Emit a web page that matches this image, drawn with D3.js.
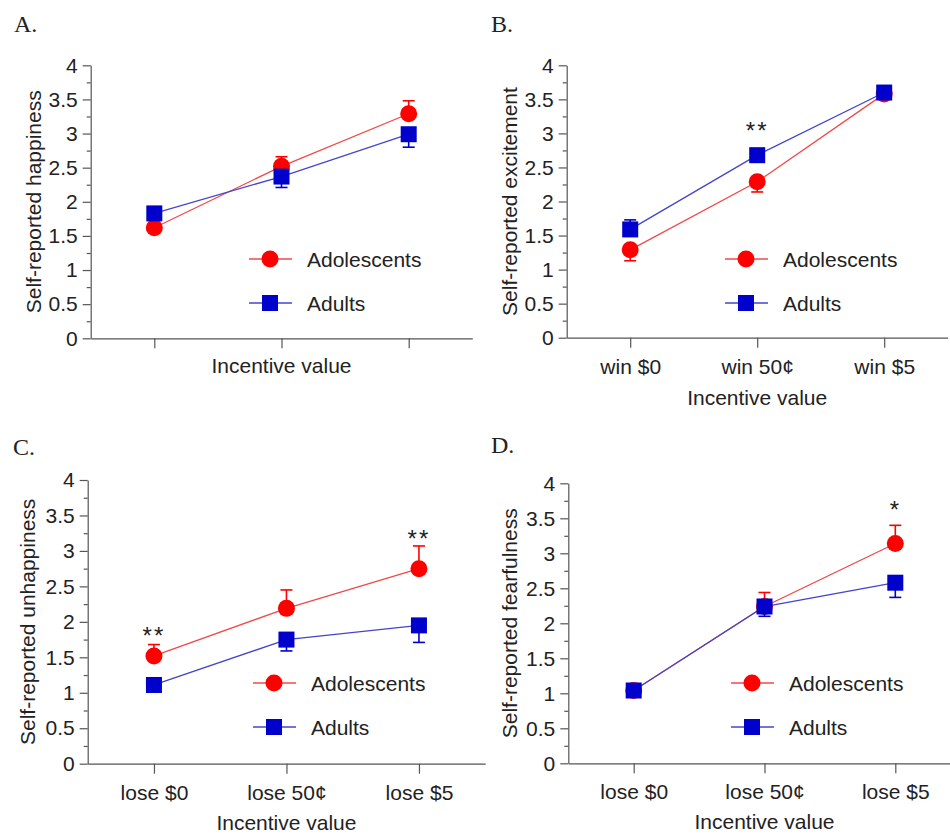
<!DOCTYPE html>
<html>
<head>
<meta charset="utf-8">
<script src="https://cdn.jsdelivr.net/npm/d3@7"></script>
<style>
  body { margin: 0; background: #fff; }
  text { font-family: "Liberation Sans", Arial, sans-serif; fill: #222; }
</style>
</head>
<body>
<div id="chart"></div>
<script>
// categories and labels
const groups = ["Adolescents", "Adults"]
const winLabels = ["win $0", "win 50¢", "win $5"]
const loseLabels = ["lose $0", "lose 50¢", "lose $5"]
const yTicks = [0, 0.5, 1, 1.5, 2, 2.5, 3, 3.5, 4]

// A. happiness (mean, end of the one-sided error bar or null when hidden)
const happyAdol = [1.62, 2.52, 3.29]
const happyAdolBar = [null, 2.66, 3.48]
const happyAdult = [1.83, 2.37, 2.99]
const happyAdultBar = [null, 2.21, 2.80]

// B. excitement
const exciteAdol = [1.29, 2.29, 3.58]
const exciteAdolBar = [1.13, 2.14, null]
const exciteAdult = [1.59, 2.68, 3.60]
const exciteAdultBar = [1.73, null, null]
const exciteStars = ["", "**", ""]
const exciteStarLevel = [null, 3.11, null]

// C. unhappiness
const unhappyAdol = [1.52, 2.19, 2.75]
const unhappyAdolBar = [1.68, 2.45, 3.07]
const unhappyAdult = [1.11, 1.75, 1.95]
const unhappyAdultBar = [null, 1.59, 1.71]
const unhappyStars = ["**", "", "**"]
const unhappyStarLevel = [1.87, null, 3.24]

// D. fearfulness
const fearAdol = [1.04, 2.24, 3.14]
const fearAdolBar = [null, 2.44, 3.40]
const fearAdult = [1.04, 2.24, 2.58]
const fearAdultBar = [null, 2.10, 2.37]
const fearStars = ["", "", "*"]
const fearStarLevel = [null, null, 3.69]

const w = 950
const h = 835
const red = "#ff0000"
const blue = "#0000cc"

const panels = [
  {letter: "A.", lx: 14, ly: 32, ax: 90.7, top: 65.3, bot: 338.3, step: 127.2,
   cats: winLabels, showCats: false, ytitle: "Self-reported happiness", ytx: 41,
   titleDy: 35, adol: happyAdol, adolBar: happyAdolBar, adult: happyAdult, adultBar: happyAdultBar,
   stars: null, starLevel: null, legX: 270, legY: 259},
  {letter: "B.", lx: 491, ly: 32, ax: 566.7, top: 65.3, bot: 337.7, step: 127,
   cats: winLabels, showCats: true, ytitle: "Self-reported excitement", ytx: 517,
   titleDy: 67, adol: exciteAdol, adolBar: exciteAdolBar, adult: exciteAdult, adultBar: exciteAdultBar,
   stars: exciteStars, starLevel: exciteStarLevel, legX: 746, legY: 259},
  {letter: "C.", lx: 13, ly: 455, ax: 87.7, top: 480, bot: 763.7, step: 132.5,
   cats: loseLabels, showCats: true, ytitle: "Self-reported unhappiness", ytx: 35,
   titleDy: 66, adol: unhappyAdol, adolBar: unhappyAdolBar, adult: unhappyAdult, adultBar: unhappyAdultBar,
   stars: unhappyStars, starLevel: unhappyStarLevel, legX: 274, legY: 683},
  {letter: "D.", lx: 491, ly: 453, ax: 568.3, top: 483.3, bot: 763.3, step: 130.8,
   cats: loseLabels, showCats: true, ytitle: "Self-reported fearfulness", ytx: 517,
   titleDy: 66, adol: fearAdol, adolBar: fearAdolBar, adult: fearAdult, adultBar: fearAdultBar,
   stars: fearStars, starLevel: fearStarLevel, legX: 752, legY: 683}
]

const svg = d3.select("#chart").append("svg")
  .attr("width", w)
  .attr("height", h)

function drawPanel(p) {
  const g = svg.append("g")

  const x = d3.scalePoint().domain(p.cats).range([p.ax, p.ax + 3 * p.step]).padding(0.5)
  const y = d3.scaleLinear().domain([0, 4]).range([p.bot, p.top])

  // panel letter
  g.append("text")
    .attr("x", p.lx).attr("y", p.ly)
    .style("font-family", "'Liberation Serif', 'Times New Roman', serif")
    .style("font-size", "24px")
    .text(p.letter)

  // y axis, minor ticks first
  const minor = d3.pairs(yTicks).map(d => (d[0] + d[1]) / 2)
  g.append("g")
    .attr("transform", `translate(${p.ax},0)`)
    .call(d3.axisLeft(y).tickValues(minor).tickSize(4).tickSizeOuter(0).tickFormat(""))
    .call(a => a.select(".domain").remove())
  const ya = g.append("g")
    .attr("transform", `translate(${p.ax},0)`)
    .call(d3.axisLeft(y).tickValues(yTicks).tickSize(8).tickSizeOuter(0).tickPadding(5).tickFormat(d3.format("~g")))
  ya.attr("font-family", null)
  ya.selectAll("text").style("font-size", "21px").attr("fill", "#222")

  // x axis
  const xa = g.append("g")
    .attr("transform", `translate(0,${p.bot})`)
    .call(d3.axisBottom(x).tickSize(10).tickSizeOuter(0))
  xa.attr("font-family", null)
  xa.selectAll("text")
    .attr("y", 36).attr("dy", 0)
    .style("font-size", "21px")
    .attr("fill", "#222")
    .text(d => p.showCats ? d : "")

  g.selectAll(".domain, .tick line").attr("stroke", "#555").attr("stroke-width", 1.2)

  // axis titles
  g.append("text")
    .attr("x", x(p.cats[1])).attr("y", p.bot + p.titleDy)
    .attr("text-anchor", "middle")
    .style("font-size", "21px")
    .text("Incentive value")
  g.append("text")
    .attr("transform", `translate(${p.ytx},${(p.top + p.bot) / 2}) rotate(-90)`)
    .attr("text-anchor", "middle")
    .style("font-size", "21px")
    .text(p.ytitle)

  const series = [
    {name: groups[0], vals: p.adol, bars: p.adolBar, color: red, line: "#f04848", shape: "circle"},
    {name: groups[1], vals: p.adult, bars: p.adultBar, color: blue, line: "#4444cc", shape: "square"}
  ]

  const line = d3.line().x((d, i) => x(p.cats[i])).y(d => y(d))

  series.forEach(s => {
    const sg = g.append("g")
    sg.append("path")
      .attr("d", line(s.vals))
      .attr("fill", "none")
      .attr("stroke", s.line)
      .attr("stroke-width", 1.3)

    // one-sided error bars
    const bars = s.vals.map((v, i) => ({i: i, v: v, e: s.bars[i]})).filter(d => d.e != null)
    sg.selectAll(".eb").data(bars).enter().append("line")
      .attr("x1", d => x(p.cats[d.i])).attr("x2", d => x(p.cats[d.i]))
      .attr("y1", d => y(d.v)).attr("y2", d => y(d.e))
      .attr("stroke", s.color).attr("stroke-width", 1.6)
    sg.selectAll(".cap").data(bars).enter().append("line")
      .attr("x1", d => x(p.cats[d.i]) - 6).attr("x2", d => x(p.cats[d.i]) + 6)
      .attr("y1", d => y(d.e)).attr("y2", d => y(d.e))
      .attr("stroke", s.color).attr("stroke-width", 1.6)

    if (s.shape == "circle") {
      sg.selectAll(".pt").data(s.vals).enter().append("circle")
        .attr("cx", (d, i) => x(p.cats[i]))
        .attr("cy", d => y(d))
        .attr("r", 8.5)
        .attr("fill", s.color)
    } else {
      sg.selectAll(".pt").data(s.vals).enter().append("rect")
        .attr("x", (d, i) => x(p.cats[i]) - 8)
        .attr("y", d => y(d) - 8)
        .attr("width", 16).attr("height", 16)
        .attr("fill", s.color)
    }
  })

  // significance stars
  if (p.stars) {
    p.stars.forEach((st, i) => {
      if (!st) return
      g.append("text")
        .attr("x", x(p.cats[i])).attr("y", y(p.starLevel[i]) + 13)
        .attr("text-anchor", "middle")
        .style("font-size", "24px")
        .style("letter-spacing", "2px")
        .attr("fill", "#333")
        .text(st)
    })
  }

  // legend
  series.forEach((s, k) => {
    const ly = p.legY + k * 44
    g.append("line")
      .attr("x1", p.legX - 21).attr("x2", p.legX + 22)
      .attr("y1", ly).attr("y2", ly)
      .attr("stroke", s.line).attr("stroke-width", 1.3)
    if (s.shape == "circle") {
      g.append("circle").attr("cx", p.legX).attr("cy", ly).attr("r", 8.5).attr("fill", s.color)
    } else {
      g.append("rect").attr("x", p.legX - 8).attr("y", ly - 8).attr("width", 16).attr("height", 16).attr("fill", s.color)
    }
    g.append("text")
      .attr("x", p.legX + 37).attr("y", ly + 7.5)
      .style("font-size", "21px")
      .text(s.name)
  })
}

panels.forEach(drawPanel)
</script>
</body>
</html>
